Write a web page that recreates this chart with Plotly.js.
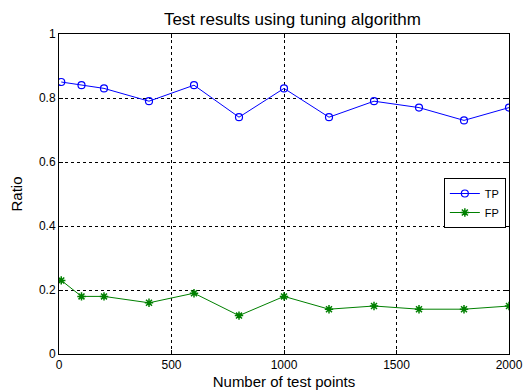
<!DOCTYPE html>
<html><head><meta charset="utf-8">
<script src="https://cdn.plot.ly/plotly-3.0.1.min.js"></script>
<style>html,body{margin:0;padding:0;background:#fff;}#chart{width:525px;height:392px;}</style>
</head><body><div id="chart"></div>
<script>
const testPoints = [10, 100, 200, 400, 600, 800, 1000, 1200, 1400, 1600, 1800, 2000];
const tpValues = [0.85, 0.84, 0.83, 0.79, 0.84, 0.74, 0.83, 0.74, 0.79, 0.77, 0.73, 0.77];
const fpValues = [0.23, 0.18, 0.18, 0.16, 0.19, 0.12, 0.18, 0.14, 0.15, 0.14, 0.14, 0.15];
const xTicks = [0, 500, 1000, 1500, 2000];
const yTicks = [0, 0.2, 0.4, 0.6, 0.8, 1];
const yTickLabels = ['0', '0.2', '0.4', '0.6', '0.8', '1'];

const traces = [
  {x: testPoints, y: tpValues, name: 'TP', mode: 'lines+markers', type: 'scatter',
   line: {color: '#0000ff', width: 1}, marker: {symbol: 'circle-open', size: 7, color: '#0000ff', line: {width: 1.2, color: '#0000ff'}}},
  {x: testPoints, y: fpValues, name: 'FP', mode: 'lines+markers', type: 'scatter',
   line: {color: '#008000', width: 1}, marker: {symbol: 'asterisk-open', size: 7, color: '#008000', line: {width: 1.5, color: '#008000'}}}
];
const axisCommon = {showline: true, linecolor: '#000', linewidth: 1, mirror: 'ticks', ticks: 'inside', ticklen: 4, tickcolor: '#000',
  showgrid: true, gridcolor: '#000', griddash: 'dot', gridwidth: 1, zeroline: false,
  tickfont: {family: 'Liberation Sans, Arial, sans-serif', size: 12, color: '#000'}};
const layout = {
  width: 525, height: 392,
  margin: {l: 59, r: 16, t: 34, b: 38},
  paper_bgcolor: '#fff', plot_bgcolor: '#fff',
  font: {family: 'Liberation Sans, Arial, sans-serif', color: '#000'},
  title: {text: 'Test results using tuning algorithm', font: {size: 17, color: '#000'}, x: 0.557, xanchor: 'center', y: 0.952, yanchor: 'middle'},
  xaxis: Object.assign({}, axisCommon, {range: [0, 2000], tickvals: xTicks, ticktext: xTicks.map(String),
    title: {text: 'Number of test points', font: {size: 15, color: '#000'}, standoff: 5}}),
  yaxis: Object.assign({}, axisCommon, {range: [0, 1], tickvals: yTicks, ticktext: yTickLabels,
    title: {text: 'Ratio', font: {size: 15, color: '#000'}, standoff: 12}}),
  showlegend: true,
  legend: {x: 0.993, y: 0.55, xanchor: 'right', yanchor: 'top', bgcolor: '#fff', bordercolor: '#000', borderwidth: 1,
    font: {size: 11, color: '#000'}, itemwidth: 30, tracegroupgap: 0}
};
Plotly.newPlot('chart', traces, layout, {displayModeBar: false, staticPlot: true});
</script></body></html>
